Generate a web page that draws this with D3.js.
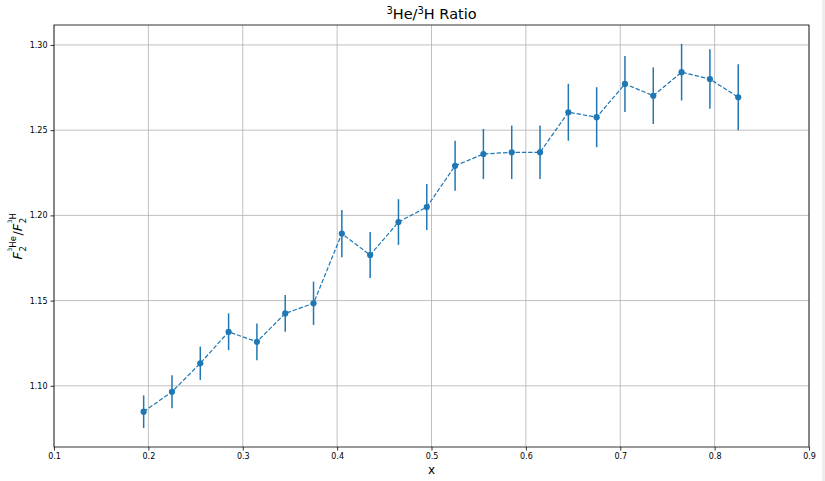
<!DOCTYPE html>
<html>
<head>
<meta charset="utf-8">
<script src="https://cdn.jsdelivr.net/npm/d3@7"></script>
<style>
  body { margin: 0; background: #fff; }
  svg { display: block; font-family: "DejaVu Sans", sans-serif; }
</style>
</head>
<body>
<div id="chart"></div>
<script>
const xValues = [0.195, 0.225, 0.255, 0.285, 0.315, 0.345, 0.375, 0.405, 0.435, 0.465, 0.495,
                 0.525, 0.555, 0.585, 0.615, 0.645, 0.675, 0.705, 0.735, 0.765, 0.795, 0.825];
const ratioValues = [1.0848, 1.0965, 1.1132, 1.1317, 1.1258, 1.1425, 1.1484, 1.1893, 1.1767, 1.1961, 1.2049,
                     1.2291, 1.2360, 1.2370, 1.2370, 1.2605, 1.2576, 1.2771, 1.2702, 1.2840, 1.2800, 1.2693];
const ratioErrors = [0.0096, 0.0097, 0.0098, 0.0108, 0.0108, 0.0108, 0.0127, 0.0138, 0.0135, 0.0134, 0.0135,
                     0.0147, 0.0147, 0.0157, 0.0157, 0.0167, 0.0176, 0.0164, 0.0166, 0.0166, 0.0175, 0.0194];
const xTicks = [0.1, 0.2, 0.3, 0.4, 0.5, 0.6, 0.7, 0.8, 0.9];
const yTicks = [1.10, 1.15, 1.20, 1.25, 1.30];

const W = 825, H = 481;
const margin = {left: 54, right: 16, top: 25, bottom: 34};
const blue = "#1f77b4";

const svg = d3.select("#chart").append("svg").attr("width", W).attr("height", H);
svg.append("rect").attr("width", W).attr("height", H).attr("fill", "#fff");
svg.append("rect").attr("x", 822).attr("y", 0).attr("width", 3).attr("height", H).attr("fill", "#eeeeee");

const x = d3.scaleLinear().domain([0.1, 0.9]).range([margin.left, W - margin.right]);
const y = d3.scaleLinear().domain([1.0641, 1.3117]).range([H - margin.bottom, margin.top]);

// grid
const g = svg.append("g");
g.selectAll(".vg").data(xTicks).join("line")
  .attr("x1", d => x(d)).attr("x2", d => x(d))
  .attr("y1", y.range()[0]).attr("y2", y.range()[1])
  .attr("stroke", "#b0b0b0").attr("stroke-width", 0.8);
g.selectAll(".hg").data(yTicks).join("line")
  .attr("x1", x.range()[0]).attr("x2", x.range()[1])
  .attr("y1", d => y(d)).attr("y2", d => y(d))
  .attr("stroke", "#b0b0b0").attr("stroke-width", 0.8);

// axes
const xAxis = svg.append("g").attr("transform", `translate(0,${H - margin.bottom})`)
  .call(d3.axisBottom(x).tickValues(xTicks).tickFormat(d3.format(".1f")).tickSizeInner(3.5).tickSizeOuter(0).tickPadding(3));
const yAxis = svg.append("g").attr("transform", `translate(${margin.left},0)`)
  .call(d3.axisLeft(y).tickValues(yTicks).tickFormat(d3.format(".2f")).tickSizeInner(3.5).tickSizeOuter(0).tickPadding(3));
[xAxis, yAxis].forEach(a => {
  a.select(".domain").remove();
  a.selectAll("text").attr("font-size", 8).attr("fill", "#000").attr("font-family", "DejaVu Sans");
  a.selectAll("line").attr("stroke", "#000").attr("stroke-width", 0.8);
});

// spines
svg.append("rect")
  .attr("x", x.range()[0]).attr("y", y.range()[1])
  .attr("width", x.range()[1] - x.range()[0]).attr("height", y.range()[0] - y.range()[1])
  .attr("fill", "none").attr("stroke", "#000").attr("stroke-width", 0.8);

// data
const data = xValues.map((xv, i) => ({x: xv, y: ratioValues[i], e: ratioErrors[i]}));
const plot = svg.append("g");
plot.selectAll(".err").data(data).join("line")
  .attr("x1", d => x(d.x)).attr("x2", d => x(d.x))
  .attr("y1", d => y(d.y - d.e)).attr("y2", d => y(d.y + d.e))
  .attr("stroke", blue).attr("stroke-width", 1.5);
plot.append("path").datum(data)
  .attr("d", d3.line().x(d => x(d.x)).y(d => y(d.y)))
  .attr("fill", "none").attr("stroke", blue).attr("stroke-width", 1.2)
  .attr("stroke-dasharray", "4.4,1.9");
plot.selectAll(".pt").data(data).join("circle")
  .attr("cx", d => x(d.x)).attr("cy", d => y(d.y)).attr("r", 3.1)
  .attr("fill", blue);

// title
const cx = (x.range()[0] + x.range()[1]) / 2;
const title = svg.append("text").attr("x", cx).attr("y", 19).attr("text-anchor", "middle")
  .attr("font-size", 14.5).attr("fill", "#000");
title.append("tspan").attr("font-size", 10).attr("dy", -5).text("3");
title.append("tspan").attr("dy", 5).text("He/");
title.append("tspan").attr("font-size", 10).attr("dy", -5).text("3");
title.append("tspan").attr("dy", 5).text("H Ratio");

// x label
svg.append("text").attr("x", cx).attr("y", 474).attr("text-anchor", "middle")
  .attr("font-size", 12).attr("fill", "#000").text("x");

// y label (rotated), built from pieces
const yl = svg.append("g").attr("transform", `translate(22,${(y.range()[0] + y.range()[1]) / 2}) rotate(-90)`);
const pieces = yl.append("g");
let cursor = 0;
function addPiece(txt, size, dy, italic) {
  const t = pieces.append("text").attr("x", cursor).attr("y", dy).attr("font-size", size)
    .attr("fill", "#000").text(txt);
  if (italic) t.attr("font-style", "italic");
  const w = t.node().getComputedTextLength();
  return w;
}
function addF(supMain) {
  cursor += addPiece("F", 13, 0, true) + 0.5;
  const start = cursor;
  const wsub = addPiece("2", 8.5, 3.5, false);
  cursor = start;
  let w3 = addPiece("3", 6, -10, false);
  cursor += w3;
  let wm = addPiece(supMain, 8.5, -6, false);
  cursor = start + Math.max(wsub, w3 + wm) + 0.5;
}
addF("He");
cursor += addPiece("/", 13, 0, false);
addF("H");
pieces.attr("transform", `translate(${-cursor / 2},0)`);
</script>
</body>
</html>
